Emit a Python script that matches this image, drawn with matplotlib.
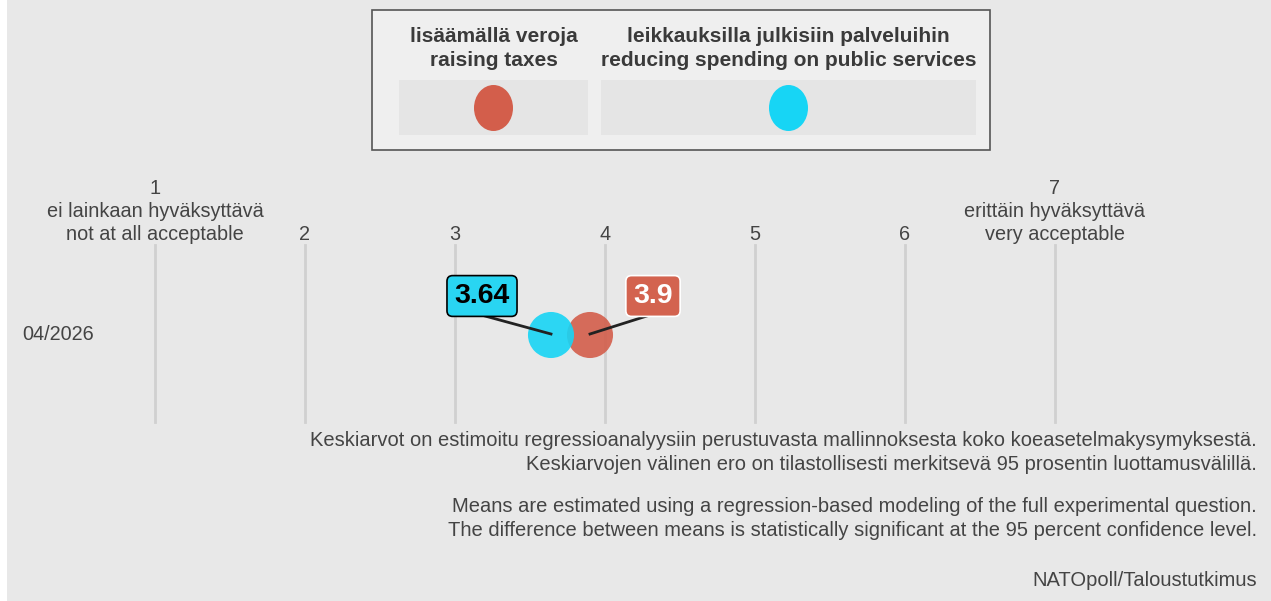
import matplotlib
matplotlib.use('Agg')
from matplotlib import pyplot as plt
from matplotlib.patches import Rectangle, Ellipse

# data
row_label = '04/2026'
series_names = [['lisäämällä veroja', 'raising taxes'],
                ['leikkauksilla julkisiin palveluihin', 'reducing spending on public services']]
series_values = [3.9, 3.64]
series_colors = ['#d35e4b', '#17d5f5']
scale_ticks = [1, 2, 3, 4, 5, 6, 7]
tick_labels = [['1', 'ei lainkaan hyväksyttävä', 'not at all acceptable'], ['2'], ['3'], ['4'], ['5'], ['6'],
               ['7', 'erittäin hyväksyttävä', 'very acceptable']]
notes = ['Keskiarvot on estimoitu regressioanalyysiin perustuvasta mallinnoksesta koko koeasetelmakysymyksestä.',
         'Keskiarvojen välinen ero on tilastollisesti merkitsevä 95 prosentin luottamusvälillä.',
         'Means are estimated using a regression-based modeling of the full experimental question.',
         'The difference between means is statistically significant at the 95 percent confidence level.']
source = 'NATOpoll/Taloustutkimus'

plt.rcParams['font.family'] = ['Liberation Sans', 'DejaVu Sans']

W, H = 1271, 601
fig = plt.figure(figsize=(W / 100, H / 100), dpi=100, facecolor='white')
left_px = 7
ax = fig.add_axes([left_px / W, 0, 1 - left_px / W, 1])
# 150 px per scale unit, value 1 sits at x=155 px
x0 = 1 - (155 - left_px) / 150
ax.set_xlim(x0, x0 + (W - left_px) / 150)
ax.set_ylim(H, 0)
ax.axis('off')
ax.add_patch(Rectangle((x0, 0), (W - left_px) / 150, H, color='#e8e8e8', zorder=0))

def px(xp):
    return x0 + (xp - left_px) / 150

txt = '#444444'

# grid lines and tick labels
for t, lab in zip(scale_ticks, tick_labels):
    ax.plot([t, t], [245, 422], color='#d0d0d0', lw=2, zorder=1)
    for i, line in enumerate(reversed(lab)):
        ax.text(t, 235 - i * 23.5, line, ha='center', va='center', fontsize=14.3, color=txt)

ax.text(px(22), 335, row_label, ha='left', va='center', fontsize=14.3, color=txt)

# points
for v, c in zip(series_values, series_colors):
    ax.scatter([v], [335], s=1100, color=c, alpha=0.9, edgecolors='none', zorder=3)

# value labels
red_v, cyan_v = series_values
ax.plot([cyan_v, px(485)], [334, 316], color='#222222', lw=2, zorder=4)
ax.plot([red_v, px(650)], [334, 315], color='#222222', lw=2, zorder=4)
ax.text(px(482), 296, f'{cyan_v:g}', ha='center', va='center', fontsize=20.5, fontweight='bold',
        color='black', zorder=5,
        bbox=dict(boxstyle='round,pad=0.26,rounding_size=0.2', fc='#29d5f2', ec='black', lw=1.2))
ax.text(px(653), 296, f'{red_v:g}', ha='center', va='center', fontsize=20.5, fontweight='bold',
        color='white', zorder=5,
        bbox=dict(boxstyle='round,pad=0.26,rounding_size=0.2', fc='#d3634f', ec='white', lw=1.2))

# legend box
ax.add_patch(Rectangle((px(372), 10), 618 / 150, 140, fc='#efefef', ec='#555555', lw=1.2, zorder=2))
panels = [(399, 588), (601, 976)]
for (a, b), name, c in zip(panels, series_names, series_colors):
    ax.add_patch(Rectangle((px(a), 80), (b - a) / 150, 55, fc='#e5e5e5', ec='none', zorder=3))
    for i, line in enumerate(name):
        ax.text(px((a + b) / 2), 37 + i * 23, line, ha='center', va='center', fontsize=15,
                fontweight='bold', color='#3a3a3a', zorder=4)
    ax.add_patch(Ellipse((px((a + b) / 2), 108), 39 / 150, 46, fc=c, ec='none', zorder=4))

# notes
for y, line in zip([441, 465, 507, 531], notes):
    ax.text(px(1257), y, line, ha='right', va='center', fontsize=14.5, color=txt)
ax.text(px(1257), 580, source, ha='right', va='center', fontsize=14.5, color=txt)

fig.savefig('out.png', dpi=100, facecolor=fig.get_facecolor())
